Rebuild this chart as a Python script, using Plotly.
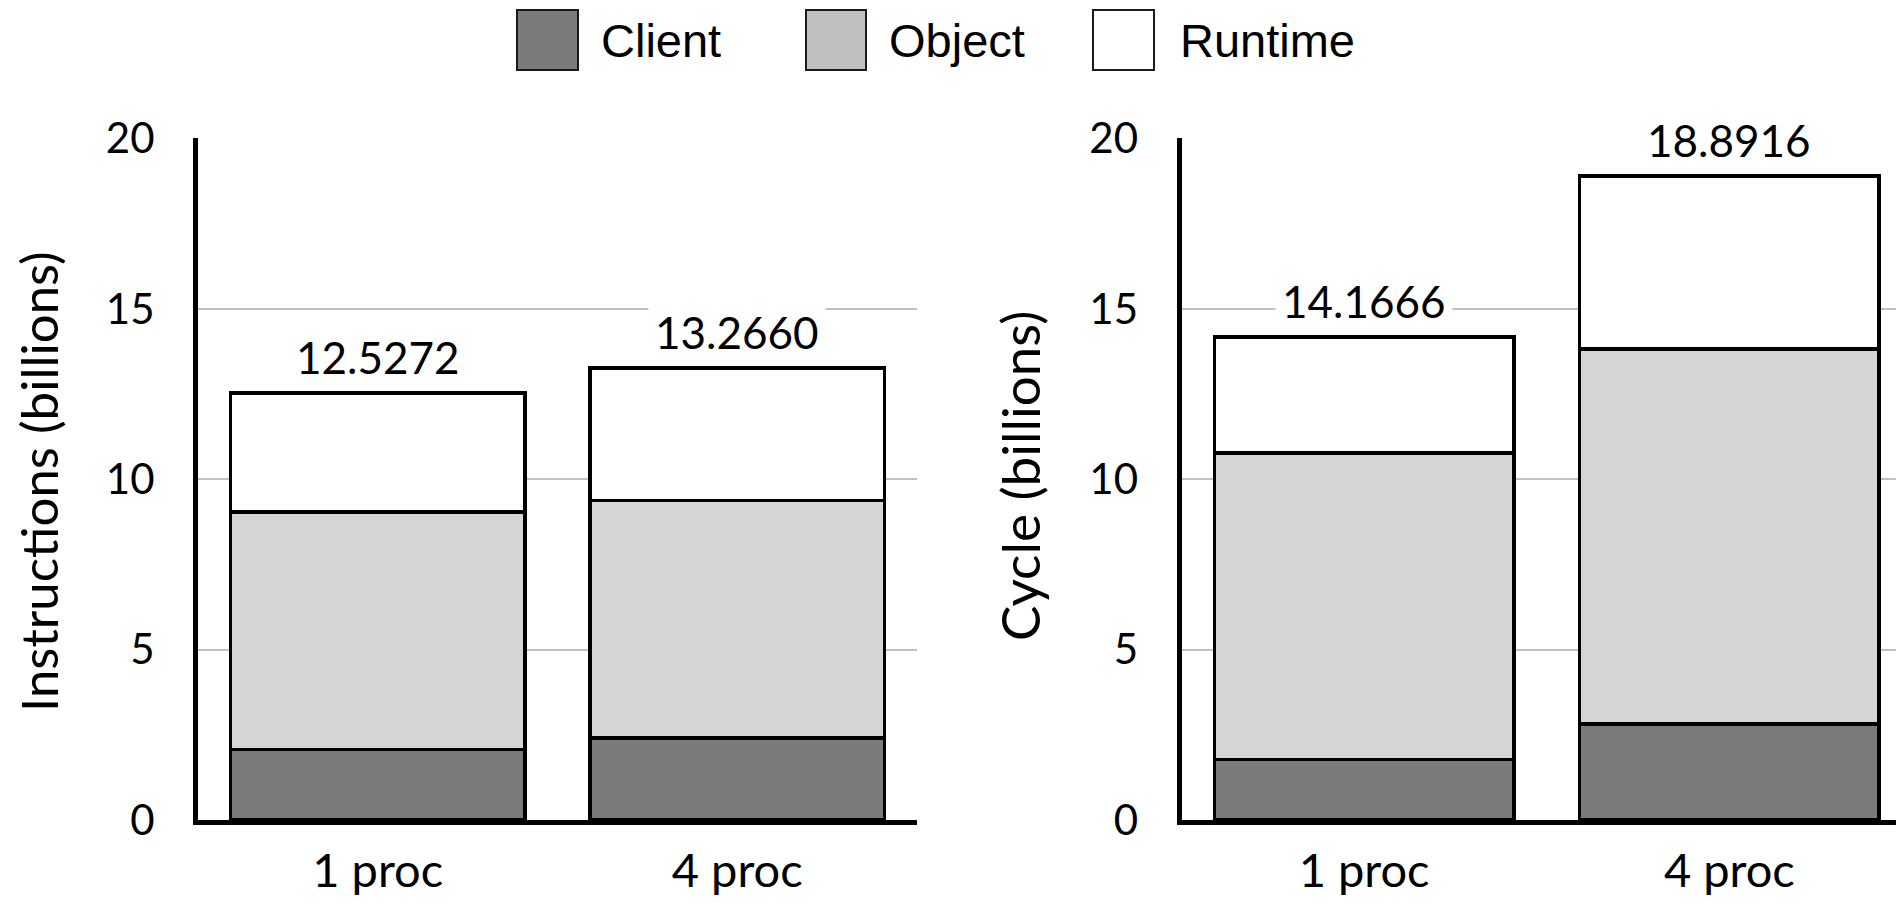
import plotly.graph_objects as go

# ---- data ----
categories = ["1 proc", "4 proc"]
instr_client = [2.07, 2.40]
instr_object = [6.97, 6.97]
instr_runtime = [3.4872, 3.896]
instr_totals = ["12.5272", "13.2660"]
instr_total_vals = [12.5272, 13.2660]

cycle_client = [1.78, 2.82]
cycle_object = [8.99, 11.00]
cycle_runtime = [3.3966, 5.0716]
cycle_totals = ["14.1666", "18.8916"]
cycle_total_vals = [14.1666, 18.8916]

series_names = ["Client", "Object", "Runtime"]
bar_colors = ["#7a7a7a", "#d5d5d5", "#ffffff"]
legend_colors = ["#7a7a7a", "#c0c0c0", "#ffffff"]
y_ticks = [0, 5, 10, 15, 20]

W, H = 1904, 903
OFF = 8  # page body margin offset
GILL = "Lato, 'Gill Sans', sans-serif"
FS = 44


def px(x):
    return (x - OFF) / W


def py(y):
    return 1 - (y - OFF) / H


fig = go.Figure()

for axis_id, (c, o, r) in zip(["", "2"], [(instr_client, instr_object, instr_runtime),
                                         (cycle_client, cycle_object, cycle_runtime)]):
    for name, vals, col in zip(series_names, [c, o, r], bar_colors):
        fig.add_trace(go.Bar(
            x=categories, y=vals, name=name,
            marker=dict(color=col, line=dict(color="black", width=3.5)),
            width=0.82, showlegend=False,
            xaxis="x" + axis_id, yaxis="y" + axis_id,
        ))

ydom = [py(820), py(138.4)]
axis_common_y = dict(
    range=[0, 20], tickvals=y_ticks, showgrid=True, gridcolor="#c0c0c0", gridwidth=2,
    showline=True, linecolor="black", linewidth=5, zeroline=False, ticks="",
    ticklabelstandoff=30, tickfont=dict(family=GILL, size=42, color="black"),
    domain=ydom, automargin=False,
)
axis_common_x = dict(
    type="category", range=[-0.5, 1.5], showline=True, linecolor="black", linewidth=5,
    ticks="", showgrid=False, ticklabelstandoff=6, automargin=False,
    tickfont=dict(family=GILL, size=47, color="black"),
)

fig.update_layout(
    width=W, height=H,
    margin=dict(l=0, r=0, t=0, b=0, pad=0, autoexpand=False),
    paper_bgcolor="white", plot_bgcolor="white",
    barmode="stack",
    showlegend=False,
    xaxis=dict(axis_common_x, domain=[px(198), px(917)], anchor="y"),
    yaxis=dict(axis_common_y, anchor="x"),
    xaxis2=dict(axis_common_x, domain=[px(1181.5), 1.0], anchor="y2"),
    yaxis2=dict(axis_common_y, anchor="x2"),
)

annotations = []
# total labels
for xref, yref, totals, vals in [("x", "y", instr_totals, instr_total_vals),
                                 ("x2", "y2", cycle_totals, cycle_total_vals)]:
    for cat, t, v in zip(categories, totals, vals):
        annotations.append(dict(
            x=cat, y=v, xref=xref, yref=yref, text=t, showarrow=False,
            yanchor="middle", yshift=36, bgcolor="white", borderpad=6,
            font=dict(family=GILL, size=FS, color="black"),
        ))

# axis titles
annotations.append(dict(x=px(38), y=py(482), xref="paper", yref="paper",
                        text="Instructions (billions)", textangle=-90, showarrow=False,
                        xanchor="center", yanchor="middle",
                        font=dict(family=GILL, size=51, color="black")))
annotations.append(dict(x=px(1020), y=py(476), xref="paper", yref="paper",
                        text="Cycle (billions)", textangle=-90, showarrow=False,
                        xanchor="center", yanchor="middle",
                        font=dict(family=GILL, size=53, color="black")))

# custom legend
legend_boxes = [(517, 578), (806, 866), (1093, 1154)]
legend_text_x = [599, 887, 1178]
shapes = []
for (x0, x1), tx, name, col in zip(legend_boxes, legend_text_x, series_names, legend_colors):
    shapes.append(dict(type="rect", xref="paper", yref="paper",
                       x0=px(x0), x1=px(x1), y0=py(70), y1=py(10),
                       fillcolor=col, line=dict(color="#1a1a1a", width=2)))
    annotations.append(dict(x=px(tx), y=py(40), xref="paper", yref="paper", text=name,
                            showarrow=False, xanchor="left", yanchor="middle",
                            font=dict(family="Liberation Sans, Arial, sans-serif", size=47,
                                      color="black")))

fig.update_layout(annotations=annotations, shapes=shapes)

fig.write_html("out.html")
